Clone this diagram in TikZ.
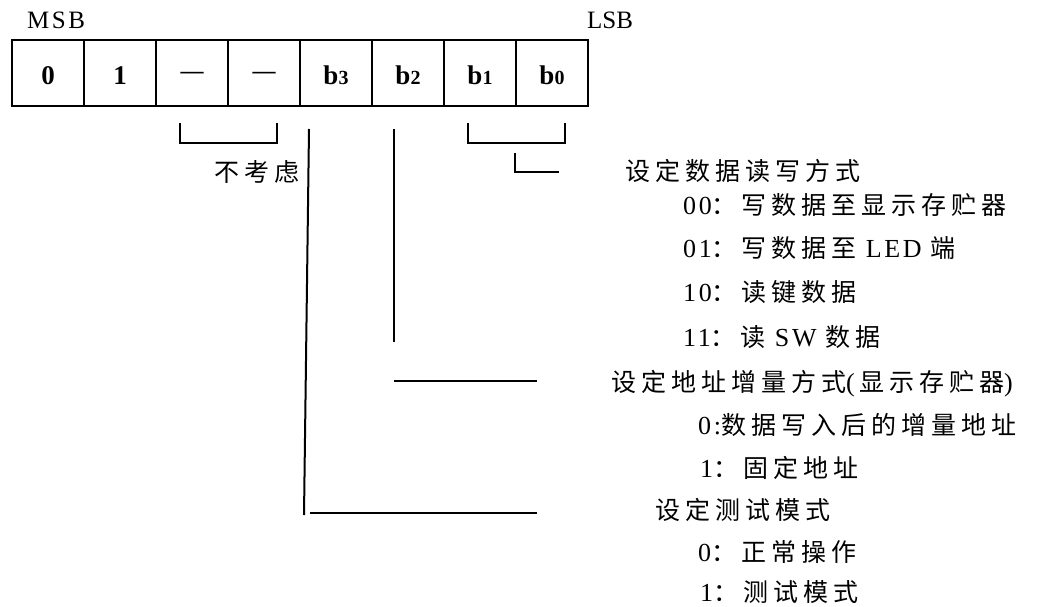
\documentclass[tikz,border=0pt]{standalone}
\usepackage{fontspec}
\setmainfont{Liberation Serif}
\newfontfamily\lsp[LetterSpace=10]{Liberation Serif}
\newfontfamily\cjk[LetterSpace=20]{Noto Sans CJK SC}
\newcommand\zh[1]{{\fontsize{25}{26}\cjk #1}}
\newcommand\lt[1]{{\fontsize{26}{28}\lsp #1}}
\begin{document}
\begin{tikzpicture}[x=1pt,y=-1pt,
  cell/.style={draw,line width=2.4pt,minimum width=72pt,minimum height=66pt,
    inner sep=0pt,text height=24pt,text depth=0pt,font=\fontsize{27}{29}\selectfont\bfseries},
  lbl/.style={anchor=base west,inner sep=0pt},
  brk/.style={line width=1.4pt},
  lead/.style={line width=1.7pt}]
\useasboundingbox (0,0) rectangle (1038,607);
% register cells
\node[cell] (c7) at (48,73) {0};
\node[cell] (c6) at (120,73) {1};
\node[cell] (c5) at (192,73) {\raisebox{6pt}{\fontsize{23}{26}\selectfont —}};
\node[cell] (c4) at (264,73) {\raisebox{6pt}{\fontsize{23}{26}\selectfont —}};
\node[cell] (c3) at (336,73) {b{\fontsize{20}{20}\selectfont 3}};
\node[cell] (c2) at (408,73) {b{\fontsize{20}{20}\selectfont 2}};
\node[cell] (c1) at (480,73) {b{\fontsize{20}{20}\selectfont 1}};
\node[cell] (c0) at (552,73) {b{\fontsize{20}{20}\selectfont 0}};
\node[lbl] (msb) at (27,29) {{\fontsize{25}{26}\lsp MSB}};
\node[lbl] (lsb) at (587,29) {{\fontsize{25}{26}\selectfont LSB}};
% brackets and leaders
\coordinate (bl1) at (180,123); \coordinate (bl2) at (277,123);
\draw[brk] (bl1) -- (180,143) -- (277,143) -- (bl2);
\coordinate (br1) at (468,123); \coordinate (br2) at (565,123);
\draw[brk] (br1) -- (468,143) -- (565,143) -- (br2);
\coordinate (lA) at (515,153); \coordinate (lB) at (559,172);
\draw[brk] (lA) -- (515,172) -- (lB);
\coordinate (b3top) at (309,129); \coordinate (b3bot) at (304,515);
\draw[line width=2pt] (b3top) -- (b3bot);
\coordinate (b3h1) at (310,513); \coordinate (b3h2) at (537,513);
\draw[lead] (b3h1) -- (b3h2);
\coordinate (b2top) at (394,129); \coordinate (b2bot) at (394,342);
\draw[lead] (b2top) -- (b2bot);
\coordinate (b2h1) at (394,381); \coordinate (b2h2) at (537,381);
\draw[lead] (b2h1) -- (b2h2);
% texts
\node[lbl] (nc) at (214,181) {\zh{不考虑}};
\node[lbl] (t1) at (625,180) {\zh{设定数据读写方式}};
\node[lbl] (t1a) at (683,214) {\lt{00}\zh{：写数据至显示存贮器}};
\node[lbl] (t1b) at (683,257) {\lt{01}\zh{：写数据至}\lt{ LED }\zh{端}};
\node[lbl] (t1c) at (683,301) {\lt{10}\zh{：读键数据}};
\node[lbl] (t1d) at (683,346) {\lt{11}\zh{：读}\lt{ SW }\zh{数据}};
\node[lbl] (t2) at (611,391) {\zh{设定地址增量方式}\lt{(\,}\zh{显示存贮器}\lt{)}};
\node[lbl] (t2a) at (698,434) {\lt{0:}\zh{数据写入后的增量地址}};
\node[lbl] (t2b) at (700,477) {\lt{1}\zh{：固定地址}};
\node[lbl] (t3) at (655,519) {\zh{设定测试模式}};
\node[lbl] (t3a) at (698,561) {\lt{0}\zh{：正常操作}};
\node[lbl] (t3b) at (700,601) {\lt{1}\zh{：测试模式}};
\end{tikzpicture}
\end{document}
